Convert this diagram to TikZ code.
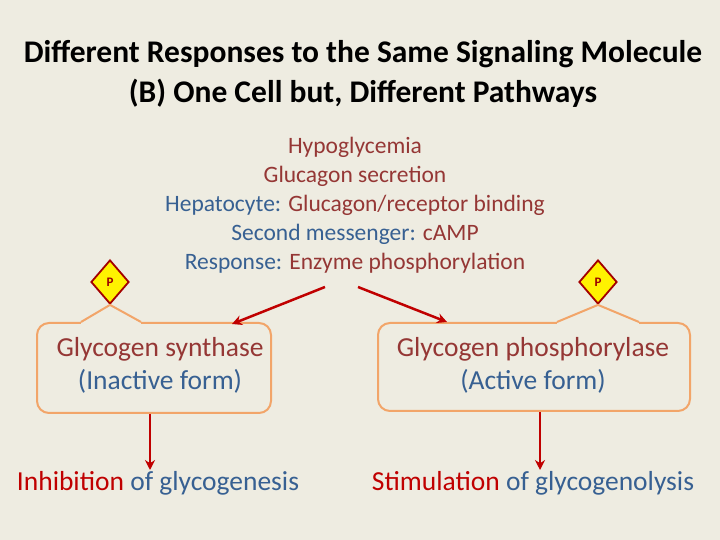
\documentclass[tikz,border=0pt]{standalone}
\usepackage{fontspec}
\setmainfont{Carlito}
\usetikzlibrary{positioning, shapes.geometric, calc, arrows.meta}
\definecolor{bgColor}{RGB}{238,236,225}
\definecolor{darkRed}{RGB}{149,55,53}
\definecolor{brightRed}{RGB}{192,0,0}
\definecolor{blueText}{RGB}{55,96,146}
\definecolor{boxColor}{RGB}{242,165,105}
\tikzset{
  enzyme/.style={draw=boxColor,line width=2pt,rounded corners=12pt,fill=none,inner sep=0pt},
  phos/.style={diamond,draw=brightRed!85!black,line width=1.8pt,fill=yellow,inner sep=0pt,minimum width=38pt,minimum height=44pt,text=brightRed!80!black,font=\bfseries\fontsize{13}{13}\selectfont},
  flow/.style={draw=brightRed,line width=2.5pt,-{Stealth[length=10pt,width=10pt]}},
  body/.style={font=\fontsize{23.5}{29}\selectfont,align=center,inner sep=0pt},
  label/.style={font=\fontsize{27.5}{33}\selectfont,align=center,inner sep=0pt}
}
\begin{document}
\begin{tikzpicture}[x=1pt,y=1pt]
\path[use as bounding box,fill=bgColor] (0,0) rectangle (720,540);

% title
\node[font=\fontsize{31.5}{40}\selectfont\bfseries,align=center] (title) at (363,466)
  {Different Responses to the Same Signaling Molecule\\(B) One Cell but, Different Pathways};

% signal cascade
\node[body] (cascade) at (355,335) {%
  \textcolor{darkRed}{Hypoglycemia}\\
  \textcolor{darkRed}{Glucagon secretion}\\
  \textcolor{blueText}{Hepatocyte:} \textcolor{darkRed}{Glucagon/receptor binding}\\
  \textcolor{blueText}{Second messenger:} \textcolor{darkRed}{cAMP}\\
  \textcolor{blueText}{Response:} \textcolor{darkRed}{Enzyme phosphorylation}};

% enzyme boxes
\node[enzyme,minimum width=234pt,minimum height=90pt] (synthase) at (154,172) {};
\node[enzyme,minimum width=312pt,minimum height=88pt] (phosphorylase) at (534,173) {};
\node[label] (synthaseText) at (160,175) {\textcolor{darkRed}{Glycogen synthase}\\\textcolor{blueText}{(Inactive form)}};
\node[label] (phosphorylaseText) at (533,175) {\textcolor{darkRed}{Glycogen phosphorylase}\\\textcolor{blueText}{(Active form)}};

% phosphate tags
\node[phos] (pLeft) at (110,258) {P};
\node[phos] (pRight) at (598,258) {P};
\coordinate (lA) at ($(synthase.north west)+(45,0)$);
\coordinate (lB) at ($(synthase.north west)+(105,0)$);
\coordinate (rA) at ($(phosphorylase.north west)+(180,0)$);
\coordinate (rB) at ($(phosphorylase.north west)+(262,0)$);
\fill[bgColor] ($(lA)+(0,-3)$) rectangle ($(lB)+(0,3)$);
\fill[bgColor] ($(rA)+(0,-3)$) rectangle ($(rB)+(0,3)$);
\draw[boxColor,line width=2pt] (lA) -- (pLeft.south) -- (lB);
\draw[boxColor,line width=2pt] (rA) -- (pRight.south) -- (rB);

% outcomes
\node[label] (glycogenesis) at (158,57) {\textcolor{brightRed}{Inhibition} \textcolor{blueText}{of glycogenesis}};
\node[label] (glycogenolysis) at (533,57) {\textcolor{brightRed}{Stimulation} \textcolor{blueText}{of glycogenolysis}};

% arrows
\coordinate (splitL) at (325,253);
\coordinate (splitR) at (358,253);
\draw[flow] (splitL) -- ($(synthase.north east)+(-40,-2)$);
\draw[flow] (splitR) -- ($(phosphorylase.north west)+(70,0)$);
\draw[flow] (synthase.south -| 150,0) -- (150,70);
\draw[flow] (phosphorylase.south -| 540,0) -- (540,70);
\end{tikzpicture}
\end{document}
